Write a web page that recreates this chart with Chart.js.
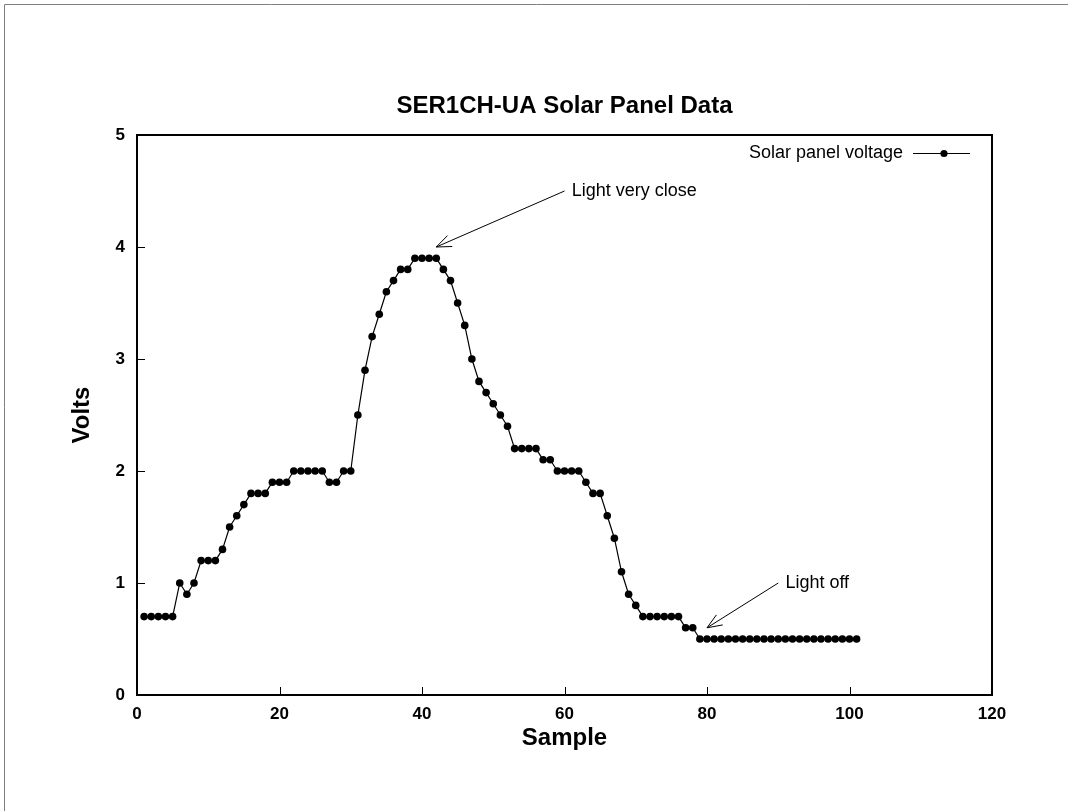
<!DOCTYPE html>
<html>
<head>
<meta charset="utf-8">
<title>SER1CH-UA Solar Panel Data</title>
<script src="https://cdn.jsdelivr.net/npm/chart.js@4.4.1/dist/chart.umd.min.js"></script>
<style>
  html, body { margin: 0; padding: 0; background: #fff; }
  #wrap { width: 1068px; height: 811px; }
  canvas { display: block; }
</style>
</head>
<body>
<div id="wrap"><canvas id="solarChart" width="1068" height="811"></canvas></div>
<script>
const chartTitle = "SER1CH-UA Solar Panel Data";
const xTitle = "Sample";
const yTitle = "Volts";
const seriesLabel = "Solar panel voltage";

const samples = [
  1, 2, 3, 4, 5, 6, 7, 8, 9, 10, 11, 12, 13, 14, 15, 16, 17, 18, 19, 20,
  21, 22, 23, 24, 25, 26, 27, 28, 29, 30, 31, 32, 33, 34, 35, 36, 37, 38, 39, 40,
  41, 42, 43, 44, 45, 46, 47, 48, 49, 50, 51, 52, 53, 54, 55, 56, 57, 58, 59, 60,
  61, 62, 63, 64, 65, 66, 67, 68, 69, 70, 71, 72, 73, 74, 75, 76, 77, 78, 79, 80,
  81, 82, 83, 84, 85, 86, 87, 88, 89, 90, 91, 92, 93, 94, 95, 96, 97, 98, 99, 100,
  101
];
const volts = [
  0.7, 0.7, 0.7, 0.7, 0.7, 1.0, 0.9, 1.0, 1.2, 1.2, 1.2, 1.3, 1.5, 1.6, 1.7, 1.8, 1.8, 1.8, 1.9, 1.9,
  1.9, 2.0, 2.0, 2.0, 2.0, 2.0, 1.9, 1.9, 2.0, 2.0, 2.5, 2.9, 3.2, 3.4, 3.6, 3.7, 3.8, 3.8, 3.9, 3.9,
  3.9, 3.9, 3.8, 3.7, 3.5, 3.3, 3.0, 2.8, 2.7, 2.6, 2.5, 2.4, 2.2, 2.2, 2.2, 2.2, 2.1, 2.1, 2.0, 2.0,
  2.0, 2.0, 1.9, 1.8, 1.8, 1.6, 1.4, 1.1, 0.9, 0.8, 0.7, 0.7, 0.7, 0.7, 0.7, 0.7, 0.6, 0.6, 0.5, 0.5,
  0.5, 0.5, 0.5, 0.5, 0.5, 0.5, 0.5, 0.5, 0.5, 0.5, 0.5, 0.5, 0.5, 0.5, 0.5, 0.5, 0.5, 0.5, 0.5, 0.5,
  0.5
];
const xTicks = [0, 20, 40, 60, 80, 100, 120];
const yTicks = [0, 1, 2, 3, 4, 5];

// labels with arrows, in data units
const noteTexts = ["Light very close", "Light off"];
const noteAt = [[61, 4.5], [91, 1.0]];
const noteFrom = [[60, 4.5], [90, 1.0]];
const noteTo = [[42, 4.0], [80, 0.6]];

const FONT = '"Liberation Sans", Arial, Helvetica, sans-serif';

function arrow(ctx, x1, y1, x2, y2) {
  const a = Math.atan2(y2 - y1, x2 - x1);
  const len = 16, spread = 0.38;
  ctx.beginPath();
  ctx.moveTo(x1, y1);
  ctx.lineTo(x2, y2);
  ctx.moveTo(x2 - len * Math.cos(a - spread), y2 - len * Math.sin(a - spread));
  ctx.lineTo(x2, y2);
  ctx.lineTo(x2 - len * Math.cos(a + spread), y2 - len * Math.sin(a + spread));
  ctx.stroke();
}

const framePlugin = {
  id: "frame",
  beforeDraw(chart) {
    const ctx = chart.ctx;
    ctx.save();
    ctx.fillStyle = "#fff";
    ctx.fillRect(0, 0, chart.width, chart.height);
    ctx.strokeStyle = "#808080";
    ctx.lineWidth = 1;
    ctx.beginPath();
    ctx.moveTo(4.5, chart.height);
    ctx.lineTo(4.5, 4.5);
    ctx.lineTo(chart.width, 4.5);
    ctx.stroke();
    ctx.restore();
  },
  afterDraw(chart) {
    const ctx = chart.ctx;
    const area = chart.chartArea;
    const xs = chart.scales.x, ys = chart.scales.y;
    ctx.save();

    // plot box
    ctx.strokeStyle = "#000";
    ctx.lineWidth = 2;
    ctx.strokeRect(area.left, area.top, area.right - area.left, area.bottom - area.top);

    // inward ticks
    ctx.lineWidth = 1;
    ctx.beginPath();
    xTicks.forEach(v => {
      const px = Math.round(xs.getPixelForValue(v)) + 0.5;
      ctx.moveTo(px, area.bottom);
      ctx.lineTo(px, area.bottom - 8);
    });
    yTicks.forEach(v => {
      const py = Math.round(ys.getPixelForValue(v)) + 0.5;
      ctx.moveTo(area.left, py);
      ctx.lineTo(area.left + 8, py);
    });
    ctx.stroke();

    // title
    ctx.fillStyle = "#000";
    ctx.font = "bold 24px " + FONT;
    ctx.textAlign = "center";
    ctx.textBaseline = "alphabetic";
    ctx.fillText(chartTitle, (area.left + area.right) / 2, 113);

    // legend
    const ly = area.top + 18.5;
    ctx.font = "18px " + FONT;
    ctx.textAlign = "right";
    ctx.textBaseline = "middle";
    ctx.fillText(seriesLabel, area.right - 89, ly);
    ctx.beginPath();
    ctx.moveTo(area.right - 79, ly);
    ctx.lineTo(area.right - 22, ly);
    ctx.stroke();
    ctx.beginPath();
    ctx.arc(area.right - 48, ly, 3.6, 0, Math.PI * 2);
    ctx.fill();

    // annotations
    ctx.textAlign = "left";
    noteTexts.forEach((t, i) => {
      ctx.fillText(t, xs.getPixelForValue(noteAt[i][0]), ys.getPixelForValue(noteAt[i][1]));
      arrow(ctx,
        xs.getPixelForValue(noteFrom[i][0]), ys.getPixelForValue(noteFrom[i][1]),
        xs.getPixelForValue(noteTo[i][0]), ys.getPixelForValue(noteTo[i][1]));
    });
    ctx.restore();
  }
};

const tickFont = { family: FONT, size: 17, weight: "bold" };
const titleFont = { family: FONT, size: 24, weight: "bold" };

new Chart(document.getElementById("solarChart"), {
  type: "line",
  data: {
    datasets: [{
      label: seriesLabel,
      data: samples.map((s, i) => ({ x: s, y: volts[i] })),
      borderColor: "#000",
      borderWidth: 1.2,
      pointRadius: 3.8,
      pointBackgroundColor: "#000",
      pointBorderWidth: 0,
      tension: 0
    }]
  },
  options: {
    responsive: false,
    animation: false,
    devicePixelRatio: 1,
    layout: { padding: { top: 135, right: 76, bottom: 0, left: 0 } },
    plugins: {
      legend: { display: false },
      title: { display: false },
      tooltip: { enabled: false }
    },
    scales: {
      x: {
        type: "linear",
        min: 0,
        max: 120,
        afterBuildTicks: s => { s.ticks = xTicks.map(v => ({ value: v })); },
        afterFit: s => { s.height = 116; },
        grid: { display: false, drawTicks: false },
        border: { display: false },
        ticks: { padding: 9, font: tickFont, color: "#000", maxRotation: 0 },
        title: { display: true, text: xTitle, font: titleFont, color: "#000", padding: { top: 0, bottom: 58 } }
      },
      y: {
        type: "linear",
        min: 0,
        max: 5,
        afterBuildTicks: s => { s.ticks = yTicks.map(v => ({ value: v })); },
        afterFit: s => { s.width = 137; },
        grid: { display: false, drawTicks: false },
        border: { display: false },
        ticks: { padding: 12, font: tickFont, color: "#000" },
        title: { display: true, text: yTitle, font: titleFont, color: "#000", padding: { top: 68, bottom: 0 } }
      }
    }
  },
  plugins: [framePlugin]
});
</script>
</body>
</html>
